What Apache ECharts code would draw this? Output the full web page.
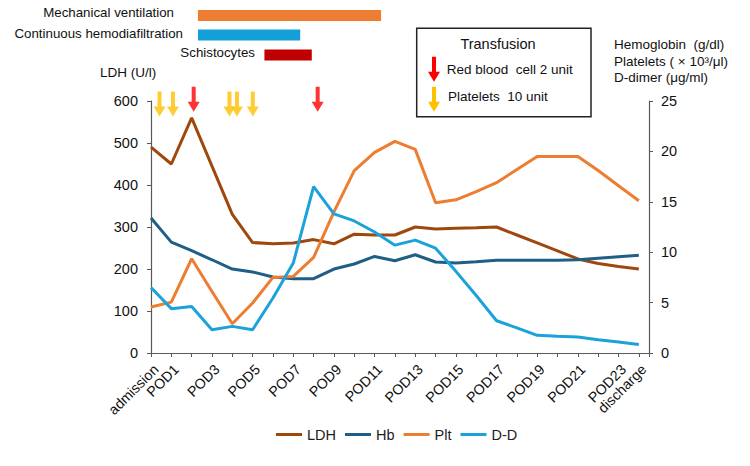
<!DOCTYPE html>
<html>
<head>
<meta charset="utf-8">
<script src="https://cdn.jsdelivr.net/npm/echarts@6/dist/echarts.min.js"></script>
<style>
  html, body { margin: 0; padding: 0; background: #fff; }
  #chart { width: 750px; height: 466px; }
</style>
</head>
<body>
<div id="chart"></div>
<script>
// x positions are day indices: 0 = admission, 1..23 = POD, 24 = discharge
const days = ['admission'];
for (let d = 1; d <= 23; d++) days.push('POD' + d);
days.push('discharge');

const ldh = [490, 450, 560, 445, 330, 263, 260, 262, 270, 260, 283, 281, 281, 300, 295, 297, 298, 300, 281, 262, 243, 224, 213, 206, 200];
const hb = [13.4, 11.0, 10.15, 9.25, 8.33, 8.04, 7.54, 7.37, 7.37, 8.33, 8.83, 9.58, 9.15, 9.75, 9.03, 8.93, 9.05, 9.2, 9.2, 9.2, 9.2, 9.25, 9.4, 9.55, 9.7];
const plt = [4.56, 5.05, 9.35, 6.1, 2.9, 4.96, 7.5, 7.6, 9.48, 14.0, 18.1, 19.9, 21.0, 20.2, 14.9, 15.2, 16.0, 16.9, 18.2, 19.5, 19.5, 19.5, 18.1, 16.6, 15.1];
const dd = [6.5, 4.4, 4.62, 2.31, 2.64, 2.31, 5.45, 8.93, 16.5, 13.8, 13.1, 12.0, 10.7, 11.2, 10.4, 8.1, 5.7, 3.2, 2.5, 1.75, 1.65, 1.59, 1.32, 1.09, 0.85];

// transfusion events (day index)
const rbcDays = [2.1, 8.2];
const pltDays = [0.42, 1.08, 3.86, 4.23, 5.01];

// treatment periods (day index)
const periodNames = ['Mechanical ventilation', 'Continuous hemodiafiltration', 'Schistocytes'];
const periodStart = [2.31, 2.31, 5.58];
const periodEnd = [11.32, 7.34, 7.91];

const colors = { ldh: '#9E480E', hb: '#1F5F85', plt: '#ED7D31', dd: '#1CA2DA' };
const periodColors = ['#ED7D31', '#13A0D8', '#C00000'];
const font = 'Liberation Sans, Arial, sans-serif';
const axisColor = '#595959';

const chart = echarts.init(document.getElementById('chart'), null, { renderer: 'svg' });

const pairs = arr => arr.map((v, i) => [i, v]);
const arrowPath = 'path://M4,0L8,0L8,15L12,15L6,25L0,15L4,15Z';

function arrowPoints(cx, top, h) {
  const head = h * 0.4;
  return [[cx - 2, top], [cx + 2, top], [cx + 2, top + h - head], [cx + 6, top + h - head],
    [cx, top + h], [cx - 6, top + h - head], [cx - 2, top + h - head]];
}

const lineSeries = (name, data, color, yAxisIndex) => ({
  name, type: 'line', yAxisIndex, data: pairs(data),
  symbol: 'none', smooth: false,
  lineStyle: { color, width: 3 }, itemStyle: { color }
});

const rowTops = [10, 29.5, 49.5];

const option = {
  backgroundColor: '#fff',
  animation: false,
  textStyle: { fontFamily: font },
  grid: { left: 151, right: 101, top: 101, bottom: 113, containLabel: false, outerBoundsMode: 'none' },
  legend: {
    data: ['LDH', 'Hb', 'Plt', 'D-D'],
    left: 271, top: 422,
    icon: 'rect', itemWidth: 26, itemHeight: 3, itemGap: 9,
    textStyle: { fontSize: 14.5, color: '#222', fontFamily: font }
  },
  xAxis: {
    type: 'value', min: 0, max: 24.5, interval: 1,
    splitLine: { show: false },
    axisLine: { show: true, lineStyle: { color: axisColor, width: 1.2 } },
    axisTick: { show: true, length: 4, lineStyle: { color: axisColor } },
    axisLabel: {
      rotate: 45, margin: 9, fontSize: 14.2, color: '#111', fontFamily: font,
      verticalAlign: 'top',
      formatter: v => {
        if (v !== Math.round(v)) return '';
        if (v === 0 || v === 24 || v % 2 === 1) return days[v];
        return '';
      }
    }
  },
  yAxis: [
    {
      type: 'value', position: 'left', min: 0, max: 600, interval: 100,
      splitLine: { show: false },
      axisLine: { show: true, lineStyle: { color: axisColor, width: 1.2 } },
      axisTick: { show: true, length: 4, lineStyle: { color: axisColor } },
      axisLabel: { margin: 13, fontSize: 14.5, color: '#111', fontFamily: font }
    },
    {
      type: 'value', position: 'right', min: 0, max: 25, interval: 5,
      splitLine: { show: false },
      axisLine: { show: true, lineStyle: { color: axisColor, width: 1.2 } },
      axisTick: { show: true, length: 4, lineStyle: { color: axisColor } },
      axisLabel: { margin: 12, fontSize: 14.5, color: '#111', fontFamily: font }
    }
  ],
  series: [
    lineSeries('LDH', ldh, colors.ldh, 0),
    lineSeries('Hb', hb, colors.hb, 1),
    lineSeries('Plt', plt, colors.plt, 1),
    lineSeries('D-D', dd, colors.dd, 1),
    {
      name: 'RBC', type: 'scatter', clip: false, silent: true,
      symbol: arrowPath, symbolSize: [12, 25],
      itemStyle: { color: '#FF0000' },
      data: rbcDays.map(d => [d, 604])
    },
    {
      name: 'PLTtx', type: 'scatter', clip: false, silent: true,
      symbol: arrowPath, symbolSize: [12, 25],
      itemStyle: { color: '#FFC000' },
      data: pltDays.map(d => [d, 593])
    },
    {
      name: 'periods', type: 'custom', clip: false, silent: true,
      encode: { x: [0, 1] },
      data: periodNames.map((n, i) => [periodStart[i], periodEnd[i], i]),
      renderItem: (params, api) => {
        const row = api.value(2);
        const x0 = api.coord([api.value(0), 0])[0];
        const x1 = api.coord([api.value(1), 0])[0];
        return {
          type: 'rect',
          shape: { x: x0, y: rowTops[row], width: x1 - x0, height: 11 },
          style: { fill: periodColors[row] }
        };
      }
    }
  ],
  graphic: [
    { type: 'text', left: 100, top: 65, style: { text: 'LDH (U/l)', fontSize: 13.5, fill: '#111', font: '13.5px ' + font } },
    { type: 'text', right: 576, top: 6, style: { text: periodNames[0], fontSize: 13.3, fill: '#111', font: '13.3px ' + font } },
    { type: 'text', right: 567, top: 27, style: { text: periodNames[1], fontSize: 13.3, fill: '#111', font: '13.3px ' + font } },
    { type: 'text', right: 495, top: 46, style: { text: periodNames[2], fontSize: 13.3, fill: '#111', font: '13.3px ' + font } },
    {
      type: 'rect', shape: { x: 416.7, y: 28.3, width: 174.3, height: 88.4 },
      style: { fill: '#fff', stroke: '#222', lineWidth: 1.5 }
    },
    { type: 'text', x: 498, y: 44, style: { text: 'Transfusion', font: '14.5px ' + font, fill: '#111', align: 'center', verticalAlign: 'middle' } },
    { type: 'polygon', shape: { points: arrowPoints(434, 56.7, 25) }, style: { fill: '#FF0000' } },
    { type: 'text', x: 446.7, y: 69.3, style: { text: 'Red blood  cell 2 unit', font: '13.5px ' + font, fill: '#111', verticalAlign: 'middle' } },
    { type: 'polygon', shape: { points: arrowPoints(434, 86.7, 25) }, style: { fill: '#FFC000' } },
    { type: 'text', x: 448, y: 96, style: { text: 'Platelets  10 unit', font: '13.5px ' + font, fill: '#111', verticalAlign: 'middle' } },
    { type: 'text', x: 614, y: 44, style: { text: 'Hemoglobin  (g/dl)', font: '13.5px ' + font, fill: '#111', verticalAlign: 'middle' } },
    { type: 'text', x: 614, y: 61, style: { text: 'Platelets ( × 10³/μl)', font: '13.5px ' + font, fill: '#111', verticalAlign: 'middle' } },
    { type: 'text', x: 614, y: 77.5, style: { text: 'D-dimer (μg/ml)', font: '13.5px ' + font, fill: '#111', verticalAlign: 'middle' } }
  ]
};

chart.setOption(option);
</script>
</body>
</html>
